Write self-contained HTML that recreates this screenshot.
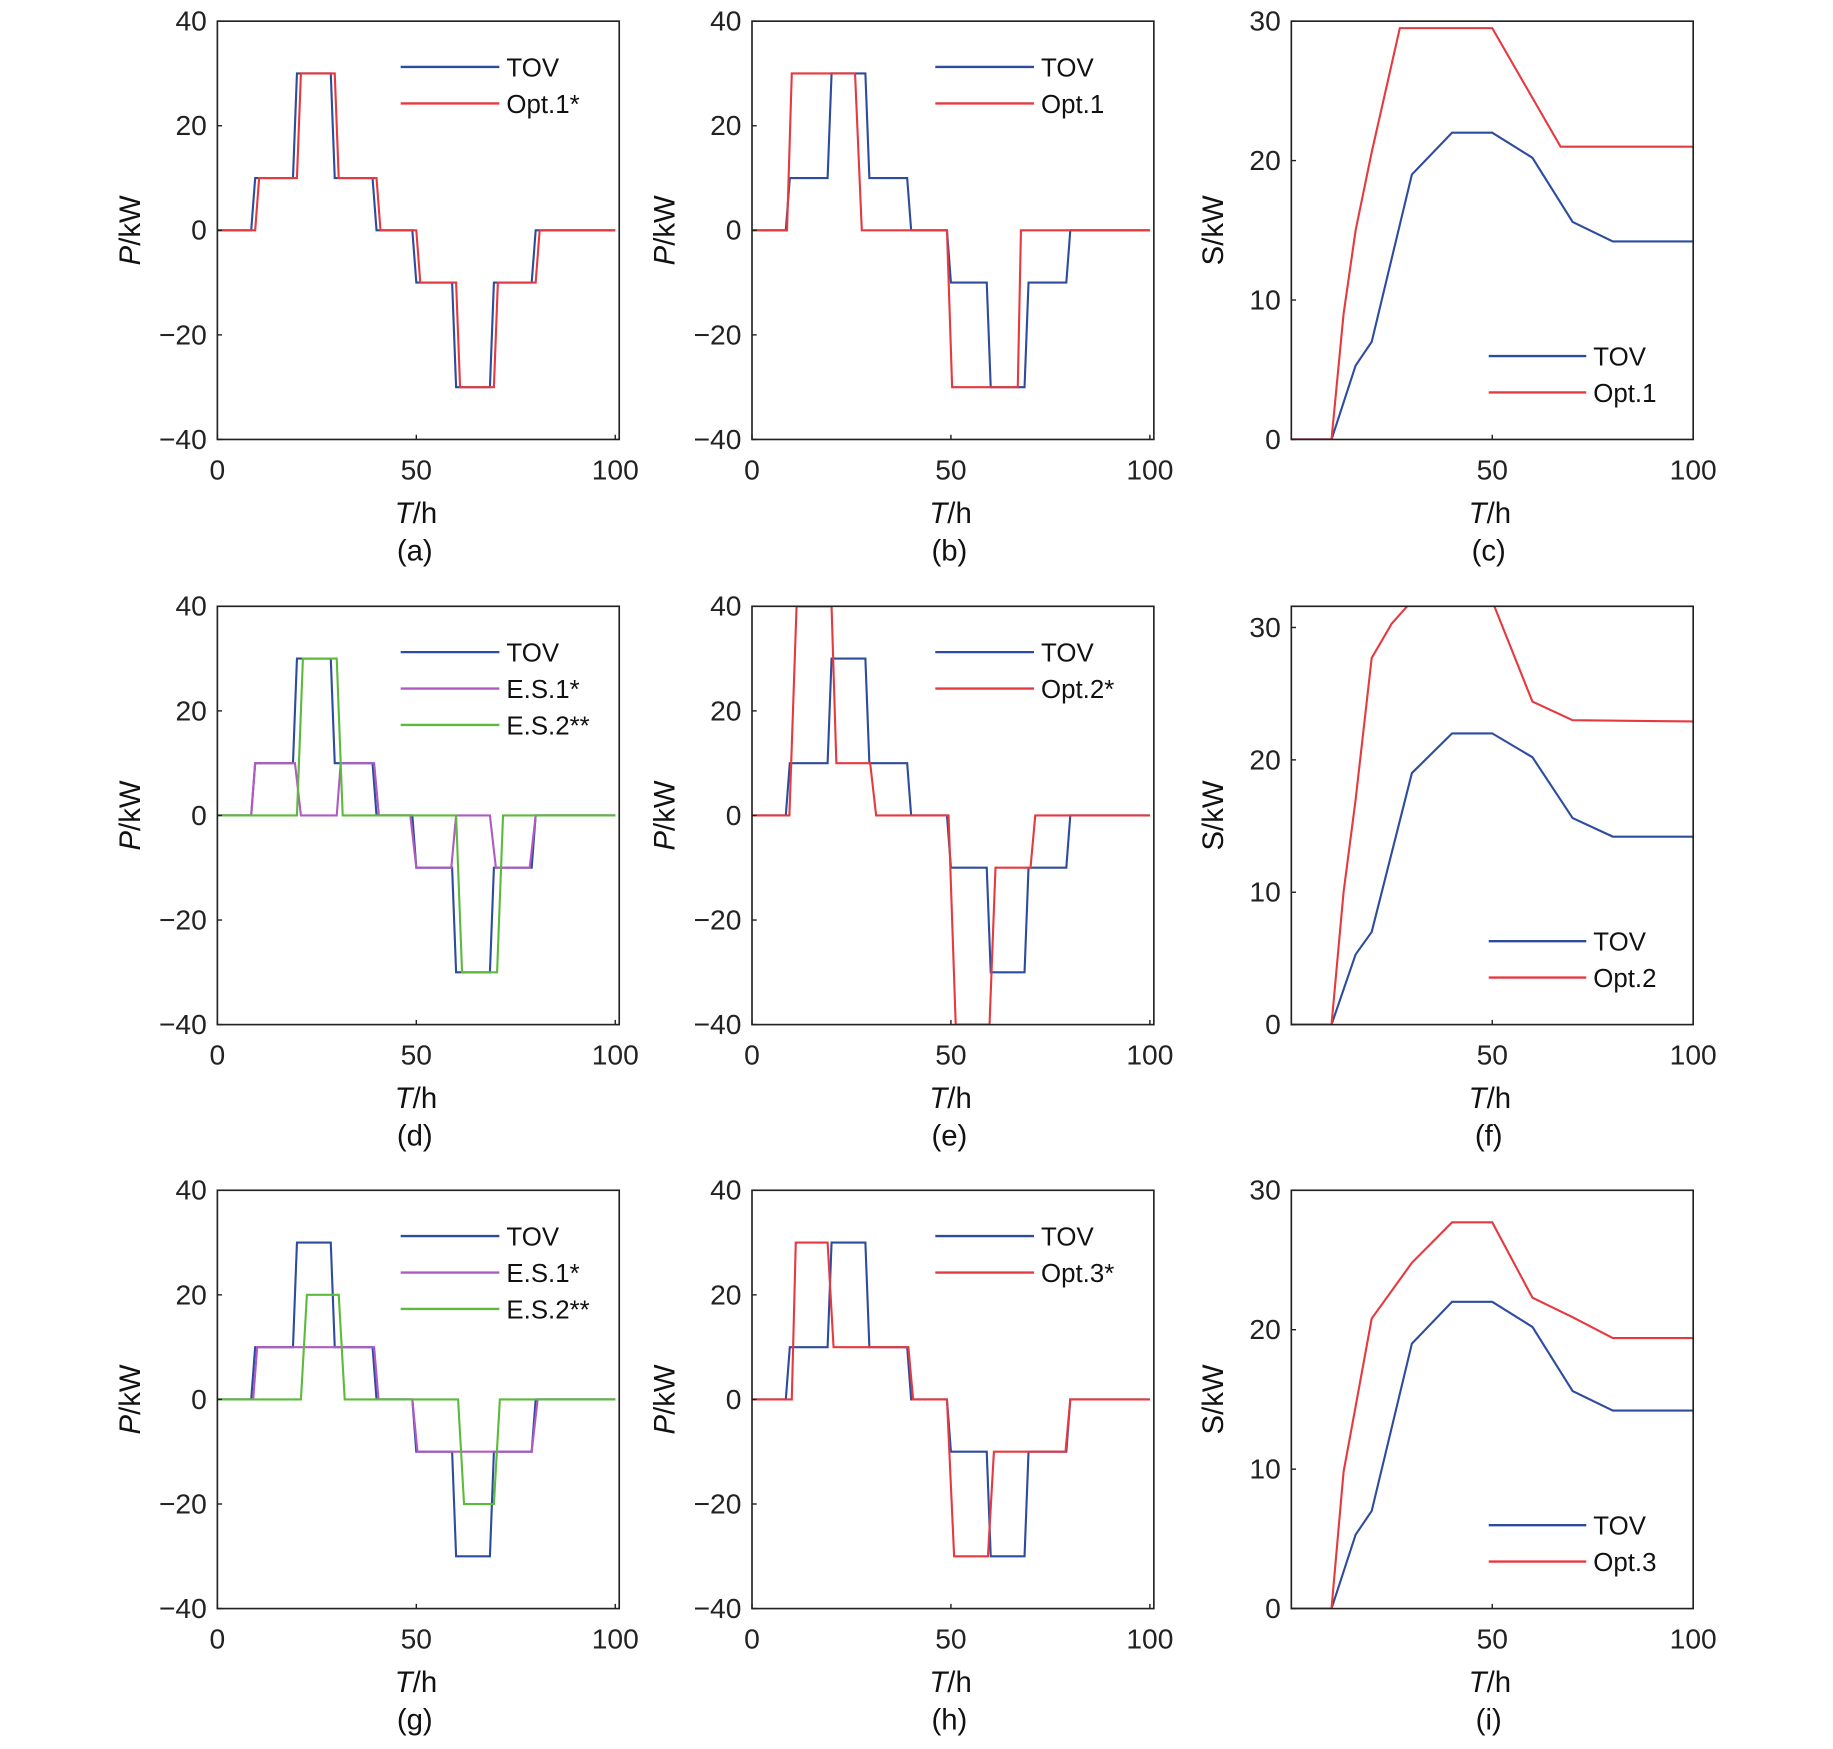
<!DOCTYPE html>
<html><head><meta charset="utf-8"><style>
html,body{margin:0;padding:0;background:#fff;}
svg{display:block;font-family:"Liberation Sans",sans-serif;}
</style></head><body>
<svg id="fig" width="1833" height="1749" viewBox="0 0 1560 1488.5" xmlns="http://www.w3.org/2000/svg"></svg>
<script>
// ---- data (time h, value) ----
const tovPT = [0,8.5,9.5,19,20,28.5,29.5,39,40,49,50,59,60,68.5,69.5,79,80,100];
const tovPV = [0,0,10,10,30,30,10,10,0,0,-10,-10,-30,-30,-10,-10,0,0];
const opt1aT = [0,9.5,10.5,20,21,29.5,30.5,40,41,50,51,60,61,69.5,70.5,80,81,100];
const opt1aV = [0,0,10,10,30,30,10,10,0,0,-10,-10,-30,-30,-10,-10,0,0];
const opt1bT = [0,8.8,10,25.9,27.6,49,50.3,66.8,67.6,100];
const opt1bV = [0,0,30,30,0,0,-30,-30,0,0];
const tovST = [0,10,16,20,30,40,50,60,70,80,100];
const tovSV = [0,0,5.3,7,19,22,22,20.2,15.6,14.2,14.2];
const opt1cT = [0,10,13,16,20,27,50,60,67,100];
const opt1cV = [0,0,9,15,20.6,29.5,29.5,24.5,21,21];
const es1dT = [0,8.5,9.5,19.5,21,30,31,39.4,40.6,48.5,50,58.8,60,68.5,70,78.5,80,100];
const es1dV = [0,0,10,10,0,0,10,10,0,0,-10,-10,0,0,-10,-10,0,0];
const es2dT = [0,20,21.5,30,31.5,60,61.5,70.3,71.8,100];
const es2dV = [0,0,30,30,0,0,-30,-30,0,0];
const opt2eT = [0,9.4,11.2,20,21.2,29.7,31.2,49.4,51.2,59.7,61.2,70,71.2,100];
const opt2eV = [0,0,40,40,10,10,0,0,-40,-40,-10,-10,0,0];
const opt2fT = [0,10,13,16,20,25,30,50,60,70,100];
const opt2fV = [0,0,10,17,27.7,30.3,32,32,24.4,23,22.9];
const es1gT = [0,9,10,39.4,40.5,49,50.3,79,80.5,100];
const es1gV = [0,0,10,10,0,0,-10,-10,0,0];
const es2gT = [0,21,22.5,30.5,32,60.5,62,69.5,71,100];
const es2gV = [0,0,20,20,0,0,-20,-20,0,0];
const opt3hT = [0,10,11,19,20.5,39.3,40.5,49,50.8,59.3,60.8,78.8,80,100];
const opt3hV = [0,0,30,30,10,10,0,0,-30,-30,-10,-10,0,0];
const opt3iT = [0,10,13,16,20,30,40,50,60,70,80,100];
const opt3iV = [0,0,9.8,14.5,20.8,24.8,27.7,27.7,22.3,20.9,19.4,19.4];
const pTicks = [-40,-20,0,20,40];
const sTicks = [0,10,20,30];

const BLUE="#2e4c9e", RED="#e53a40", PURP="#b05bc4", GREEN="#5dbb3c";
const svg=document.getElementById('fig');
const NS="http://www.w3.org/2000/svg";
function mk(tag,attrs,parent){const e=document.createElementNS(NS,tag);for(const k in attrs)e.setAttribute(k,attrs[k]);(parent||svg).appendChild(e);return e;}

const colX=[185,640,1099], rowY=[18,516,1013], W=342, H=356;
const panels=[
 {id:'a',c:0,r:0,type:'P',series:[[tovPT,tovPV,BLUE,'TOV'],[opt1aT,opt1aV,RED,'Opt.1*']]},
 {id:'b',c:1,r:0,type:'P',series:[[tovPT,tovPV,BLUE,'TOV'],[opt1bT,opt1bV,RED,'Opt.1']]},
 {id:'c',c:2,r:0,type:'S',ymax:30,series:[[tovST,tovSV,BLUE,'TOV'],[opt1cT,opt1cV,RED,'Opt.1']]},
 {id:'d',c:0,r:1,type:'P',series:[[tovPT,tovPV,BLUE,'TOV'],[es1dT,es1dV,PURP,'E.S.1*'],[es2dT,es2dV,GREEN,'E.S.2**']]},
 {id:'e',c:1,r:1,type:'P',series:[[tovPT,tovPV,BLUE,'TOV'],[opt2eT,opt2eV,RED,'Opt.2*']]},
 {id:'f',c:2,r:1,type:'S',ymax:31.6,series:[[tovST,tovSV,BLUE,'TOV'],[opt2fT,opt2fV,RED,'Opt.2']]},
 {id:'g',c:0,r:2,type:'P',series:[[tovPT,tovPV,BLUE,'TOV'],[es1gT,es1gV,PURP,'E.S.1*'],[es2gT,es2gV,GREEN,'E.S.2**']]},
 {id:'h',c:1,r:2,type:'P',series:[[tovPT,tovPV,BLUE,'TOV'],[opt3hT,opt3hV,RED,'Opt.3*']]},
 {id:'i',c:2,r:2,type:'S',ymax:30,series:[[tovST,tovSV,BLUE,'TOV'],[opt3iT,opt3iV,RED,'Opt.3']]}
];

panels.forEach(p=>{
  const x0=colX[p.c], y0=rowY[p.r];
  const g=mk('g',{});
  
  
  const isP=p.type==='P';
  const ymin=isP?-40:0, ymax=isP?40:p.ymax, xmax=isP?101:100;
  const sx=v=>x0+v/xmax*W, sy=v=>y0+H-(v-ymin)/(ymax-ymin)*H;
  const cp=mk('clipPath',{id:'clip'+p.id},g);
  mk('rect',{x:x0,y:y0,width:W,height:H},cp);
  p.series.forEach(s=>{
    const [T,V,col,name]=s;
    const d=T.map((t,i)=>(i?'L':'M')+sx(t).toFixed(2)+' '+sy(V[i]).toFixed(2)).join(' ');
    const path=mk('path',{d:d,fill:'none',stroke:col,'stroke-width':1.8,'clip-path':'url(#clip'+p.id+')'},g);
    
    
  });
  const fr=mk('rect',{x:x0,y:y0,width:W,height:H,fill:'none',stroke:'#222','stroke-width':1.4},g);
  
  
  (isP?pTicks:sTicks).forEach(v=>{
    mk('line',{x1:x0,x2:x0+4,y1:sy(v),y2:sy(v),stroke:'#222','stroke-width':1.2},g);
    const t=mk('text',{x:x0-9,y:sy(v)+8,'text-anchor':'end','font-size':24,fill:'#222'},g);
    t.textContent=(v<0?'\u2212':'')+Math.abs(v);
    
    
  });
  (isP?[0,50,100]:[50,100]).forEach(v=>{
    mk('line',{x1:sx(v),x2:sx(v),y1:y0+H,y2:y0+H-4,stroke:'#222','stroke-width':1.2},g);
    const t=mk('text',{x:sx(v),y:y0+H+34,'text-anchor':'middle','font-size':24,fill:'#222'},g);
    t.textContent=v;
    
    
  });
  const xt=mk('text',{x:x0+W/2-2,y:y0+H+71,'text-anchor':'middle','font-size':25,fill:'#111'},g);
  xt.innerHTML='<tspan font-style="italic">T</tspan>/h';
  
  
  const lab=mk('text',{x:x0+W/2-3,y:y0+H+103,'text-anchor':'middle','font-size':25,fill:'#111'},g);
  lab.textContent='('+p.id+')';
  
  
  const yx=x0-(isP?66:58), yy=y0+H/2;
  const yt=mk('text',{x:yx,y:yy,'text-anchor':'middle','font-size':25,fill:'#111',transform:'rotate(-90 '+yx+' '+yy+')'},g);
  yt.innerHTML=isP?'<tspan font-style="italic">P</tspan>/kW':'S/kW';
  
  
  const lg=mk('g',{},g);
  
  
  p.series.forEach((s,i)=>{
    let lx1,lx2,ly;
    if(isP){lx1=x0+156;lx2=x0+240;ly=y0+39+i*31;}
    else{lx1=x0+168;lx2=x0+251;ly=y0+285+i*31;}
    mk('line',{x1:lx1,x2:lx2,y1:ly,y2:ly,stroke:s[2],'stroke-width':2},lg);
    const t=mk('text',{x:lx2+6,y:ly+8,'font-size':22,fill:'#111'},lg);
    t.textContent=s[3];
    
    
  });
});
</script>
</body></html>
